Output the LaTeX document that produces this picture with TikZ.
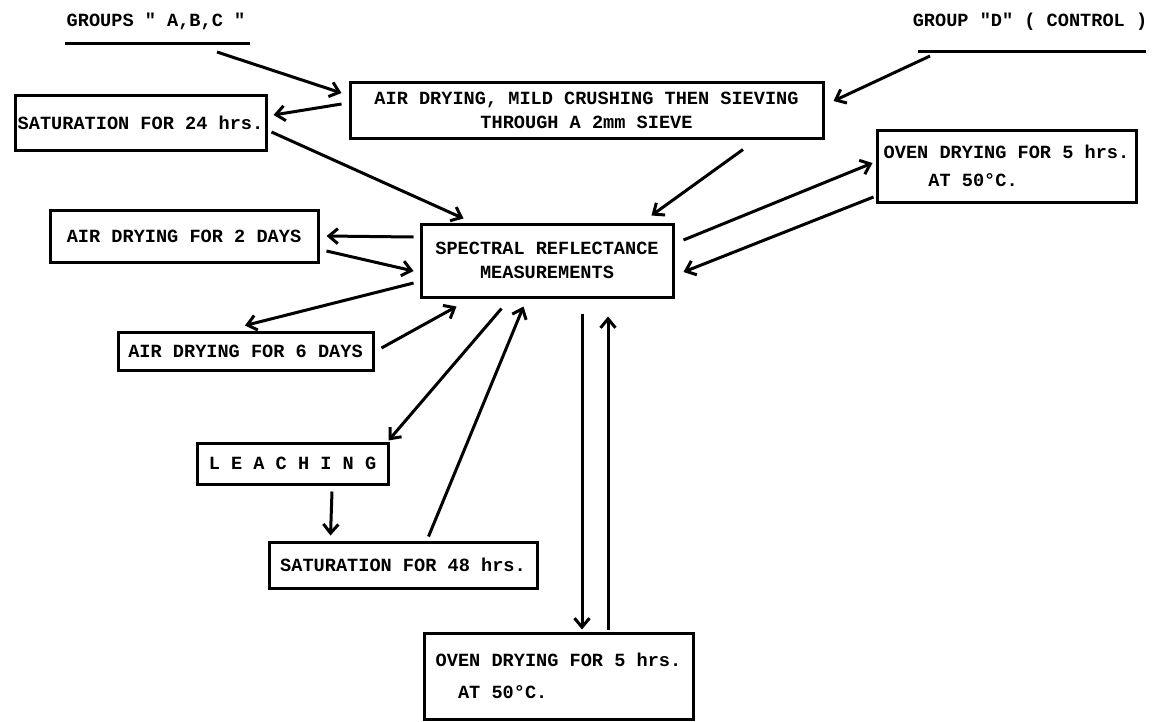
\documentclass[tikz,border=0pt]{standalone}
\usepackage{fontspec}
\setmainfont{Liberation Mono}
\usetikzlibrary{arrows.meta,calc}
\newcommand\boxfont{\fontsize{18.6}{24}\selectfont\bfseries}
\begin{document}
\begin{tikzpicture}[x=1pt,y=-1pt,
  box/.style={draw,line width=3pt,inner sep=0pt,font=\boxfont,align=center},
  lbl/.style={inner sep=0pt,font=\boxfont},
  arr/.style={line width=3pt,-{Straight Barb[length=9pt,width=15pt]}},
  uline/.style={line width=3pt}]
\useasboundingbox[fill=white] (0,0) rectangle (1158,721);

% labels
\node[lbl] (GA) at (156,21) {GROUPS \textquotedbl{} A,B,C \textquotedbl};
\coordinate (GAu1) at (65,43);
\coordinate (GAu2) at (250,43);
\coordinate (GAa) at (217,52);
\draw[uline] (GAu1) -- (GAu2);

\node[lbl] (GD) at (1030,22) {GROUP \textquotedbl D\textquotedbl{} ( CONTROL )};
\coordinate (GDu1) at (918,51);
\coordinate (GDu2) at (1146,51);
\coordinate (GDa) at (930,56);
\draw[uline] (GDu1) -- (GDu2);

% boxes
\node[box,minimum width=473pt,minimum height=56pt] (T) at (586.5,110)
  {AIR DRYING, MILD CRUSHING THEN SIEVING\\THROUGH A 2mm SIEVE};
\node[box,minimum width=251pt,minimum height=55pt] (S24) at (140.5,122.5)
  {SATURATION FOR 24 hrs.};
\node[box,minimum width=259pt,minimum height=72pt,align=left] (OR) at (1006.5,166)
  {OVEN DRYING FOR 5 hrs.\\[4pt]\phantom{XXXX}AT 50°C.};
\node[box,minimum width=252pt,minimum height=73pt] (SP) at (547,260.5)
  {SPECTRAL REFLECTANCE\\MEASUREMENTS};
\node[box,minimum width=268pt,minimum height=52pt] (AD2) at (184,236)
  {AIR DRYING FOR 2 DAYS};
\node[box,minimum width=255pt,minimum height=38pt] (AD6) at (245.5,351)
  {AIR DRYING FOR 6 DAYS};
\node[box,minimum width=191pt,minimum height=41pt] (LE) at (292.5,463.5)
  {L E A C H I N G};
\node[box,minimum width=268pt,minimum height=46pt] (S48) at (403,565)
  {SATURATION FOR 48 hrs.};
\node[box,minimum width=269pt,minimum height=86pt,align=left] (OB) at (558.5,676)
  {OVEN DRYING FOR 5 hrs.\\[8pt]\phantom{XX}AT 50°C.};

% connectors
\draw[arr] (GAa) -- ($(T.west)+(-7,-17)$);
\draw[arr] ($(T.west)+(-7,-6)$) -- ($(S24.east)+(6,-7.5)$);
\draw[arr] ($(S24.east)+(4,9.5)$) -- ($(SP.north west)+(44,-4)$);
\draw[arr] (GDa) -- ($(T.east)+(9,-9)$);
\draw[arr] ($(T.south)+(156.5,10)$) -- ($(SP.north east)+(-23,-7)$);
\draw[arr] ($(SP.east)+(9,-20.5)$) -- ($(OR.west)+(-3,-3)$);
\draw[arr] ($(OR.west)+(-2,31)$) -- ($(SP.east)+(9,11.5)$);
\draw[arr] ($(SP.west)+(-6,-23.5)$) -- ($(AD2.east)+(7,0)$);
\draw[arr] ($(AD2.east)+(7,15)$) -- ($(SP.west)+(-6,10.5)$);
\draw[arr] ($(SP.west)+(-6,22.5)$) -- ($(AD6.north)+(-0.5,-5)$);
\draw[arr] ($(AD6.east)+(7,-3)$) -- ($(SP.south west)+(37,8)$);
\draw[arr] ($(SP.south west)+(82,10)$) -- ($(LE.north east)+(-1,-1)$);
\draw[arr] ($(S48.north west)+(161,-4)$) -- ($(SP.south west)+(104,8)$);
\draw[arr] ($(LE.south)+(39.5,6)$) -- ($(S48.north west)+(63,-5)$);
\draw[arr] ($(SP.south)+(35,15)$) -- ($(OB.north)+(23.5,-2)$);
\draw[arr] ($(OB.north)+(49.5,-2)$) -- ($(SP.south)+(61,18)$);
\end{tikzpicture}
\end{document}
